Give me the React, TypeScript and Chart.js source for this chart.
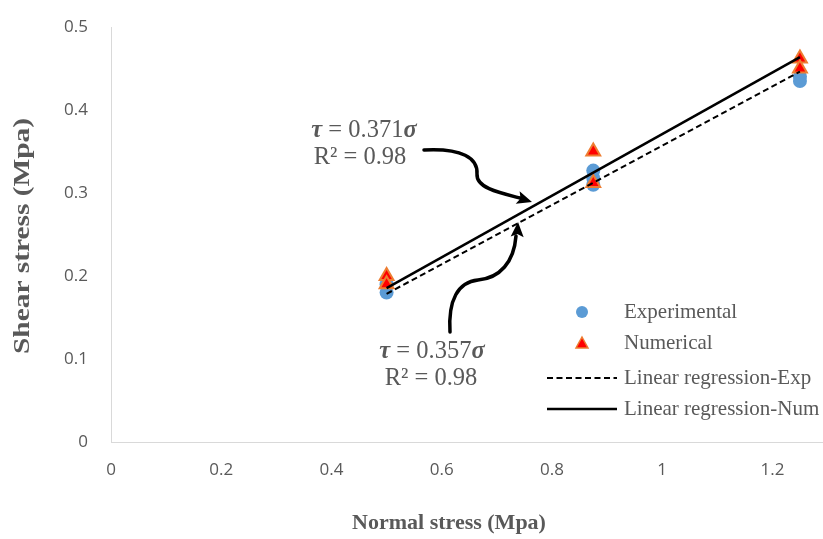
import React, { useEffect, useRef } from "react";
import { Chart, registerables } from "chart.js";

Chart.register(...registerables);

const expX = [0.5, 0.5, 0.875, 0.875, 0.875, 1.25, 1.25];
const expY = [0.18, 0.19, 0.31, 0.318, 0.327, 0.435, 0.44];
const numX = [0.5, 0.5, 0.875, 0.875, 1.25, 1.25];
const numY = [0.2, 0.19, 0.35, 0.312, 0.462, 0.45];
const regExpX = [0.5, 1.25];
const regExpY = [0.1785, 0.4463];
const regNumX = [0.5, 1.25];
const regNumY = [0.1855, 0.4638];
const xTicks = [0, 0.2, 0.4, 0.6, 0.8, 1, 1.2];
const yTicks = [0, 0.1, 0.2, 0.3, 0.4, 0.5];
const seriesNames = ["Experimental", "Numerical", "Linear regression-Exp", "Linear regression-Num"];
const xTitle = "Normal stress (Mpa)";
const yTitle = "Shear stress (Mpa)";
const eqNum = { coef: "0.371", r2: "R² = 0.98" };
const eqExp = { coef: "0.357", r2: "R² = 0.98" };

const GRAY = "#595959";
const SERIF = "'Liberation Serif', 'Times New Roman', serif";
const BLUE = "#5B9BD5";
const RED = "#FF0000";
const ORANGE = "#ED7D31";
const EQ_SIZE = 24.5;

const pts = (xs: number[], ys: number[]) => xs.map((x, i) => ({ x, y: ys[i] }));

function drawArrowHead(ctx: CanvasRenderingContext2D, tx: number, ty: number, fx: number, fy: number, len = 15, w = 13) {
  const a = Math.atan2(ty - fy, tx - fx);
  ctx.save();
  ctx.translate(tx, ty);
  ctx.rotate(a);
  ctx.beginPath();
  ctx.moveTo(0, 0);
  ctx.lineTo(-len, -w / 2);
  ctx.lineTo(-len * 0.8, 0);
  ctx.lineTo(-len, w / 2);
  ctx.closePath();
  ctx.fill();
  ctx.restore();
}

function drawEq(ctx: CanvasRenderingContext2D, cx: number, y: number, coef: string) {
  const size = EQ_SIZE;
  const parts: [string, string][] = [
    ["τ", `italic bold ${size}px ${SERIF}`],
    [" = " + coef, `${size}px ${SERIF}`],
    ["σ", `italic bold ${size}px ${SERIF}`],
  ];
  let total = 0;
  for (const [t, f] of parts) {
    ctx.font = f;
    total += ctx.measureText(t).width;
  }
  let x = cx - total / 2;
  ctx.textAlign = "left";
  ctx.textBaseline = "middle";
  for (const [t, f] of parts) {
    ctx.font = f;
    ctx.fillText(t, x, y);
    x += ctx.measureText(t).width;
  }
}

const overlay = {
  id: "overlay",
  afterDraw(chart: any) {
    const ctx: CanvasRenderingContext2D = chart.ctx;
    ctx.save();
    // axis titles
    ctx.fillStyle = GRAY;
    ctx.font = `bold 22px ${SERIF}`;
    ctx.textAlign = "center";
    ctx.textBaseline = "middle";
    ctx.fillText(xTitle, 449, 523);
    ctx.save();
    ctx.font = `bold 24px ${SERIF}`;
    ctx.translate(23, 236);
    ctx.rotate(-Math.PI / 2);
    const w = ctx.measureText(yTitle).width;
    ctx.scale(236 / w, 1);
    ctx.fillText(yTitle, 0, 0);
    ctx.restore();

    // legend
    const lx = 582;
    const rows = [312, 343, 378, 409];
    ctx.fillStyle = BLUE;
    ctx.beginPath();
    ctx.arc(lx, rows[0], 6, 0, Math.PI * 2);
    ctx.fill();
    ctx.fillStyle = RED;
    ctx.strokeStyle = ORANGE;
    ctx.lineWidth = 1.5;
    ctx.beginPath();
    ctx.moveTo(lx, rows[1] - 6);
    ctx.lineTo(lx + 6, rows[1] + 5);
    ctx.lineTo(lx - 6, rows[1] + 5);
    ctx.closePath();
    ctx.fill();
    ctx.stroke();
    ctx.strokeStyle = "#000";
    ctx.lineWidth = 2;
    ctx.setLineDash([6, 3.5]);
    ctx.beginPath();
    ctx.moveTo(547, rows[2]);
    ctx.lineTo(617, rows[2]);
    ctx.stroke();
    ctx.setLineDash([]);
    ctx.lineWidth = 2.5;
    ctx.beginPath();
    ctx.moveTo(547, rows[3]);
    ctx.lineTo(617, rows[3]);
    ctx.stroke();
    ctx.fillStyle = GRAY;
    ctx.font = `21px ${SERIF}`;
    ctx.textAlign = "left";
    ctx.textBaseline = "middle";
    seriesNames.forEach((n, i) => ctx.fillText(n, 624, rows[i]));

    // equations
    ctx.fillStyle = GRAY;
    drawEq(ctx, 364, 131, eqNum.coef);
    ctx.font = `${EQ_SIZE}px ${SERIF}`;
    ctx.textAlign = "center";
    ctx.fillText(eqNum.r2, 360, 158);
    drawEq(ctx, 432, 352, eqExp.coef);
    ctx.font = `${EQ_SIZE}px ${SERIF}`;
    ctx.textAlign = "center";
    ctx.fillText(eqExp.r2, 431, 379);

    // arrows
    ctx.strokeStyle = "#000";
    ctx.fillStyle = "#000";
    ctx.lineWidth = 3.5;
    ctx.lineCap = "round";
    ctx.beginPath();
    ctx.moveTo(424, 150);
    ctx.bezierCurveTo(462, 148, 478, 158, 477, 174);
    ctx.bezierCurveTo(476, 188, 500, 193, 520, 198);
    ctx.stroke();
    drawArrowHead(ctx, 532, 202, 516, 197);

    ctx.beginPath();
    ctx.moveTo(450, 332);
    ctx.bezierCurveTo(448, 300, 458, 282, 478, 280);
    ctx.bezierCurveTo(500, 278, 514, 262, 516, 236);
    ctx.stroke();
    drawArrowHead(ctx, 518, 222, 517, 240);
    ctx.restore();
  },
};

export default function App() {
  const ref = useRef<HTMLCanvasElement>(null);
  useEffect(() => {
    if (!ref.current) return;
    const chart = new Chart(ref.current, {
      type: "scatter",
      data: {
        datasets: [
          {
            label: seriesNames[3],
            type: "line",
            data: pts(regNumX, regNumY),
            borderColor: "#000",
            borderWidth: 2.5,
            pointRadius: 0,
            showLine: true,
            fill: false,
            order: 0,
          } as any,
          {
            label: seriesNames[2],
            type: "line",
            data: pts(regExpX, regExpY),
            borderColor: "#000",
            borderWidth: 2,
            borderDash: [6, 3.5],
            pointRadius: 0,
            showLine: true,
            fill: false,
            order: 1,
          } as any,
          {
            label: seriesNames[1],
            data: pts(numX, numY),
            pointStyle: "triangle",
            pointRadius: 8,
            backgroundColor: RED,
            borderColor: ORANGE,
            borderWidth: 2,
            order: 2,
          },
          {
            label: seriesNames[0],
            data: pts(expX, expY),
            pointStyle: "circle",
            pointRadius: 7,
            backgroundColor: BLUE,
            borderColor: BLUE,
            borderWidth: 0,
            order: 3,
          },
        ],
      },
      options: {
        responsive: false,
        animation: false,
        layout: { autoPadding: false, padding: { top: 27, right: 1, left: 0, bottom: 0 } },
        plugins: { legend: { display: false }, tooltip: { enabled: false } },
        scales: {
          x: {
            type: "linear",
            min: 0,
            max: 1.29,
            afterFit: (s: any) => {
              s.height = 97;
              s.paddingLeft = 0;
              s.paddingRight = 0;
            },
            afterBuildTicks: (s: any) => {
              s.ticks = xTicks.map((v) => ({ value: v }));
            },
            ticks: {
              color: GRAY,
              font: { family: "'Open Sans', sans-serif", size: 17 },
              padding: 18,
              includeBounds: false,
              callback: (v: any) => String(v),
            },
            grid: { display: false, drawTicks: false },
            border: { display: true, color: "#D9D9D9", width: 1 },
          },
          y: {
            type: "linear",
            min: 0,
            max: 0.5,
            afterFit: (s: any) => {
              s.width = 111;
              s.paddingTop = 0;
              s.paddingBottom = 0;
            },
            afterBuildTicks: (s: any) => {
              s.ticks = yTicks.map((v) => ({ value: v }));
            },
            ticks: {
              color: GRAY,
              font: { family: "'Open Sans', sans-serif", size: 17 },
              padding: 23,
              callback: (v: any) => String(v),
            },
            grid: { display: false, drawTicks: false },
            border: { display: true, color: "#D9D9D9", width: 1 },
          },
        },
      },
      plugins: [overlay],
    });
    return () => chart.destroy();
  }, []);
  return (
    <div style={{ position: "absolute", left: 0, top: 0, width: 823, height: 539, background: "#fff" }}>
      <canvas ref={ref} width={823} height={539} style={{ display: "block" }} />
    </div>
  );
}
